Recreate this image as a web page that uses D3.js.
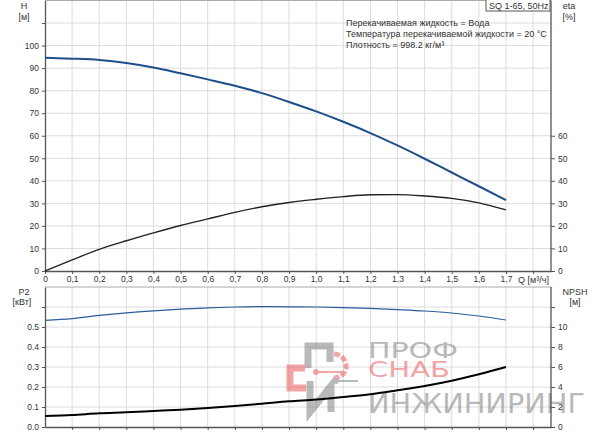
<!DOCTYPE html>
<html>
<head>
<meta charset="utf-8">
<script src="https://cdn.jsdelivr.net/npm/d3@7"></script>
<style>
  body { margin: 0; background: #fff; }
  svg { display: block; font-family: "Liberation Sans", Arial, sans-serif; }
  .grid line { stroke: #dcdcdc; stroke-width: 1; }
  .axis path, .axis line { stroke: #555; }
  .axis text { fill: #333; font-size: 8.5px; }
  .lbl { fill: #333; font-size: 9px; }
</style>
</head>
<body>
<svg id="chart"></svg>
<script>
// flow points, m3/h
const flow = [0, 0.1, 0.2, 0.3, 0.4, 0.5, 0.6, 0.7, 0.8, 0.9, 1.0, 1.1, 1.2, 1.3, 1.4, 1.5, 1.6, 1.7]
// head H [m]
const head = [94.6, 94.2, 93.6, 92.3, 90.3, 87.7, 85.0, 82.2, 78.9, 75.0, 70.8, 66.2, 61.2, 55.7, 49.8, 43.7, 37.6, 31.4]
// efficiency eta [%]
const eta = [0, 4.9, 9.6, 13.4, 16.9, 20.2, 23.1, 26.0, 28.5, 30.4, 31.8, 33.0, 33.8, 33.9, 33.3, 32.2, 30.2, 27.1]
// shaft power P2 [kW]
const power = [0.533, 0.542, 0.558, 0.571, 0.581, 0.589, 0.596, 0.600, 0.602, 0.601, 0.600, 0.597, 0.593, 0.587, 0.580, 0.570, 0.555, 0.535]
// NPSH [m]
const npsh = [1.1, 1.2, 1.37, 1.47, 1.6, 1.73, 1.9, 2.1, 2.33, 2.57, 2.75, 3.0, 3.27, 3.67, 4.1, 4.63, 5.27, 6.0]

const qTicks = [0, 0.1, 0.2, 0.3, 0.4, 0.5, 0.6, 0.7, 0.8, 0.9, 1.0, 1.1, 1.2, 1.3, 1.4, 1.5, 1.6, 1.7]
const hTicks = [0, 10, 20, 30, 40, 50, 60, 70, 80, 90, 100]
const etaTicks = [0, 10, 20, 30, 40, 50, 60]
const p2Ticks = [0, 0.1, 0.2, 0.3, 0.4, 0.5]
const npshTicks = [0, 2, 4, 6, 8, 10]
const infoLines = ['Перекачиваемая жидкость = Вода', 'Температура перекачиваемой жидкости = 20 °C', 'Плотность = 998.2 кг/м³']

const W = 600, H = 434
const svg = d3.select('#chart').attr('width', W).attr('height', H)

const left = 45, right = 551
const top1 = 0.5, bot1 = 271
const top2 = 287, bot2 = 427

// scales
const x = d3.scaleLinear().domain([0, 1.866]).range([left, right])
const yH = d3.scaleLinear().domain([0, 120]).range([bot1, top1])
const yEta = d3.scaleLinear().domain([0, 120]).range([bot1, top1])
const yP = d3.scaleLinear().domain([0, 0.7]).range([bot2, top2])
const yN = d3.scaleLinear().domain([0, 14]).range([bot2, top2])

const gridX = d3.range(1, 19).map(i => i / 10)

// grid, top panel
const g1 = svg.append('g').attr('class', 'grid')
g1.selectAll('.v').data(gridX).join('line')
  .attr('x1', d => x(d)).attr('x2', d => x(d)).attr('y1', top1).attr('y2', bot1)
g1.selectAll('.h').data(d3.range(10, 121, 10)).join('line')
  .attr('x1', left).attr('x2', right).attr('y1', d => yH(d)).attr('y2', d => yH(d))

// grid, bottom panel
const g2 = svg.append('g').attr('class', 'grid')
g2.selectAll('.v').data(gridX).join('line')
  .attr('x1', d => x(d)).attr('x2', d => x(d)).attr('y1', top2).attr('y2', bot2)
g2.selectAll('.h').data(d3.range(1, 7).map(i => i / 10)).join('line')
  .attr('x1', left).attr('x2', right).attr('y1', d => yP(d)).attr('y2', d => yP(d))

// frame tops
svg.append('line').attr('x1', left).attr('x2', right).attr('y1', top1).attr('y2', top1).attr('stroke', '#aaa')
svg.append('line').attr('x1', left).attr('x2', right).attr('y1', top2).attr('y2', top2).attr('stroke', '#aaa')

// watermark (drawn under the curves)
const wm = svg.append('g').attr('opacity', 0.55)
wm.append('path').attr('d', 'M308,368 V346 H330 V362').attr('fill', 'none').attr('stroke', '#808080').attr('stroke-width', 7)
wm.append('path').attr('d', 'M305,368 H290 V388 H306').attr('fill', 'none').attr('stroke', '#ea5a5a').attr('stroke-width', 7)
wm.append('path').attr('d', 'M310,381 V412 L331,386 V412').attr('fill', 'none').attr('stroke', '#808080').attr('stroke-width', 7)
wm.append('path').attr('d', 'M334,354 A12,12 0 1 1 334,378').attr('fill', 'none').attr('stroke', '#ea5a5a').attr('stroke-width', 5).attr('stroke-dasharray', '6 2')
wm.append('line').attr('x1', 316).attr('x2', 344).attr('y1', 372).attr('y2', 372).attr('stroke', '#ea5a5a').attr('stroke-width', 2)
wm.append('circle').attr('cx', 316).attr('cy', 372).attr('r', 3).attr('fill', '#ea5a5a')
wm.append('line').attr('x1', 336).attr('x2', 358).attr('y1', 381).attr('y2', 381).attr('stroke', '#808080').attr('stroke-width', 2)
wm.append('circle').attr('cx', 336).attr('cy', 381).attr('r', 3).attr('fill', '#808080')
wm.append('text').attr('x', 368).attr('y', 358).attr('textLength', 90).attr('lengthAdjust', 'spacingAndGlyphs')
  .attr('font-family', 'DejaVu Sans').attr('font-size', 22).attr('fill', '#808080').text('ПРОФ')
wm.append('text').attr('x', 368).attr('y', 377).attr('textLength', 82).attr('lengthAdjust', 'spacingAndGlyphs')
  .attr('font-family', 'DejaVu Sans').attr('font-size', 22).attr('fill', '#ea5a5a').text('СНАБ')
wm.append('text').attr('x', 368).attr('y', 413).attr('textLength', 217).attr('lengthAdjust', 'spacingAndGlyphs')
  .attr('font-family', 'DejaVu Sans').attr('font-size', 27).attr('fill', '#808080').text('ИНЖИНИРИНГ')

// axes
const fmtQ = d => d === 0 ? '0' : d3.format('.1f')(d).replace('.', ',')

svg.append('g').attr('class', 'axis').attr('transform', `translate(0,${bot1})`)
  .call(d3.axisBottom(x).tickValues(gridX.concat([0]).filter(d => d <= 1.8)).tickSize(3).tickSizeOuter(0)
    .tickFormat(d => qTicks.some(q => Math.abs(q - d) < 1e-9) ? fmtQ(d) : ''))
  .call(g => g.selectAll('text').attr('dy', '0.55em'))

svg.append('g').attr('class', 'axis').attr('transform', `translate(${left},0)`)
  .call(d3.axisLeft(yH).tickValues(hTicks.concat([110])).tickSize(3).tickSizeOuter(0)
    .tickFormat(d => hTicks.includes(d) ? d : ''))

svg.append('g').attr('class', 'axis').attr('transform', `translate(${right},0)`)
  .call(d3.axisRight(yEta).tickValues(etaTicks).tickSize(4).tickSizeOuter(0))
  .call(g => g.select('.domain').attr('d', `M0,${top1}V${bot1}`))

svg.append('g').attr('class', 'axis').attr('transform', `translate(0,${bot2})`)
  .call(d3.axisBottom(x).tickValues(gridX).tickSize(3).tickSizeOuter(0).tickFormat(''))

svg.append('g').attr('class', 'axis').attr('transform', `translate(${left},0)`)
  .call(d3.axisLeft(yP).tickValues(p2Ticks.concat([0.6])).tickSize(3).tickSizeOuter(0)
    .tickFormat(d => d < 0.55 ? d3.format('.1f')(d) : ''))

svg.append('g').attr('class', 'axis').attr('transform', `translate(${right},0)`)
  .call(d3.axisRight(yN).tickValues(npshTicks.concat([12])).tickSize(4).tickSizeOuter(0)
    .tickFormat(d => d <= 10 ? d : ''))
  .call(g => g.select('.domain').attr('d', `M0,${top2}V${bot2}`))

svg.selectAll('.axis .domain').attr('stroke-width', 1.3)

// axis titles
const lbl = (t, px, py, anchor = 'middle') => svg.append('text').attr('class', 'lbl')
  .attr('x', px).attr('y', py).attr('text-anchor', anchor).text(t)
lbl('H', 24, 9); lbl('[м]', 24, 20)
lbl('eta', 569, 9); lbl('[%]', 569, 20)
lbl('P2', 24, 295); lbl('[кВт]', 22, 305)
lbl('NPSH', 575, 295); lbl('[м]', 575, 305)
svg.append('text').attr('class', 'lbl').attr('x', 518).attr('y', 283).attr('font-size', 8.5).text('Q [м³/ч]')

// info block
svg.append('rect').attr('x', 486).attr('y', -1).attr('width', 64).attr('height', 12)
  .attr('fill', '#fff').attr('stroke', '#555')
svg.append('text').attr('class', 'lbl').attr('x', 489).attr('y', 8.5).text('SQ 1-65, 50Hz')
svg.selectAll('.info').data(infoLines).join('text').attr('class', 'lbl')
  .attr('x', 346).attr('y', (d, i) => 25.5 + i * 11).text(d => d)

// curves
const curve = (vals, ys) => d3.line().x((d, i) => x(flow[i])).y(d => ys(d)).curve(d3.curveMonotoneX)(vals)

svg.append('path').attr('d', curve(head, yH)).attr('fill', 'none').attr('stroke', '#1d4f8a').attr('stroke-width', 2)
svg.append('path').attr('d', curve(eta, yEta)).attr('fill', 'none').attr('stroke', '#222').attr('stroke-width', 1.4)
svg.append('path').attr('d', curve(power, yP)).attr('fill', 'none').attr('stroke', '#2a5d98').attr('stroke-width', 1.2)
svg.append('path').attr('d', curve(npsh, yN)).attr('fill', 'none').attr('stroke', '#000').attr('stroke-width', 2)
</script>
</body>
</html>
